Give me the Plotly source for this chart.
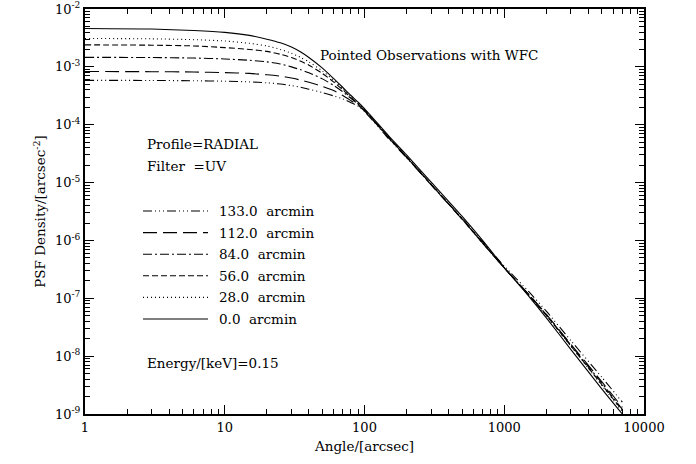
import plotly.graph_objects as go

# ---------------- data ----------------
angles = [1, 3, 6, 10, 15, 20, 25, 30, 35, 40, 50, 60, 70, 80, 90, 100,
          150, 200, 300, 500, 700, 1000, 1500, 2000, 3000, 5000, 7000]

psf_0 = [4.6e-3, 4.5e-3, 4.25e-3, 3.95e-3, 3.5e-3, 3.0e-3, 2.6e-3, 2.2e-3, 1.8e-3, 1.45e-3,
         9.5e-4, 6.3e-4, 4.4e-4, 3.2e-4, 2.45e-4, 1.9e-4,
         6.3e-5, 3.0e-5, 1.02e-5, 2.6e-6, 1.0e-6, 3.4e-7, 1.08e-7, 4.6e-8, 1.3e-8, 2.7e-9, 1.0e-9]
psf_28 = [3.1e-3, 3.05e-3, 2.95e-3, 2.8e-3, 2.55e-3, 2.3e-3, 2.0e-3, 1.72e-3, 1.45e-3, 1.22e-3,
          8.5e-4, 5.9e-4, 4.2e-4, 3.05e-4, 2.35e-4, 1.82e-4,
          6.0e-5, 2.8e-5, 9.4e-6, 2.35e-6, 9.1e-7, 3.35e-7, 1.12e-7, 5.0e-8, 1.48e-8, 3.1e-9, 1.1e-9]
psf_56 = [2.4e-3, 2.37e-3, 2.3e-3, 2.15e-3, 2.0e-3, 1.85e-3, 1.65e-3, 1.45e-3, 1.25e-3, 1.07e-3,
          7.7e-4, 5.5e-4, 4.0e-4, 2.95e-4, 2.3e-4, 1.8e-4,
          6.0e-5, 2.8e-5, 9.3e-6, 2.35e-6, 9.1e-7, 3.35e-7, 1.13e-7, 5.05e-8, 1.5e-8, 3.2e-9, 1.15e-9]
psf_84 = [1.46e-3, 1.45e-3, 1.42e-3, 1.37e-3, 1.3e-3, 1.22e-3, 1.12e-3, 1.0e-3, 8.9e-4, 7.9e-4,
          6.2e-4, 4.8e-4, 3.7e-4, 2.85e-4, 2.25e-4, 1.78e-4,
          5.9e-5, 2.75e-5, 9.2e-6, 2.33e-6, 9.0e-7, 3.35e-7, 1.15e-7, 5.2e-8, 1.55e-8, 3.4e-9, 1.2e-9]
psf_112 = [8.3e-4, 8.25e-4, 8.15e-4, 7.95e-4, 7.7e-4, 7.3e-4, 6.9e-4, 6.4e-4, 5.9e-4, 5.4e-4,
           4.6e-4, 3.9e-4, 3.2e-4, 2.6e-4, 2.15e-4, 1.72e-4,
           5.8e-5, 2.72e-5, 9.1e-6, 2.32e-6, 9.0e-7, 3.35e-7, 1.17e-7, 5.3e-8, 1.6e-8, 3.6e-9, 1.3e-9]
psf_133 = [5.85e-4, 5.82e-4, 5.75e-4, 5.65e-4, 5.5e-4, 5.3e-4, 5.05e-4, 4.75e-4, 4.45e-4, 4.1e-4,
           3.6e-4, 3.15e-4, 2.8e-4, 2.4e-4, 2.1e-4, 1.7e-4,
           5.6e-5, 2.7e-5, 9.2e-6, 2.4e-6, 9.5e-7, 3.6e-7, 1.3e-7, 6.0e-8, 1.85e-8, 4.3e-9, 1.6e-9]

series_labels = ["133.0  arcmin", "112.0  arcmin", "84.0  arcmin",
                 "56.0  arcmin", "28.0  arcmin", "0.0  arcmin"]
series_values = [psf_133, psf_112, psf_84, psf_56, psf_28, psf_0]
series_dash = ["9px,3px,1px,3px,1px,3px,1px,3px", "14px,6px", "9px,3px,2px,3px",
               "6px,3px", "1px,3px", "solid"]

x_tickvals = [1, 10, 100, 1000, 10000]
x_ticktext = ["1", "10", "100", "1000", "10000"]
y_exponents = [-9, -8, -7, -6, -5, -4, -3, -2]

FONT = "DejaVu Serif"
W, H = 696, 464
ML, MR, MT, MB = 85, 52, 9, 50

fig = go.Figure()
for lab, vals, dash in zip(series_labels, series_values, series_dash):
    fig.add_trace(go.Scatter(x=angles, y=vals, mode="lines", name=lab,
                             line=dict(color="black", width=1.1, dash=dash, shape="spline",
                                       smoothing=0.6),
                             showlegend=False))

pl, pr = ML, W - MR
pt, pb = MT, H - MB


def px_to_paper_x(px):
    return (px - pl) / (pr - pl)


def px_to_paper_y(py):
    return (pb - py) / (pb - pt)


# manual legend (line samples + labels)
leg_x0, leg_x1 = 143, 208
leg_text_x = 217
leg_y0, leg_dy = 211, 21.6
for i, (lab, dash) in enumerate(zip(series_labels, series_dash)):
    yy = px_to_paper_y(leg_y0 + i * leg_dy)
    fig.add_shape(type="line", xref="paper", yref="paper",
                  x0=px_to_paper_x(leg_x0), x1=px_to_paper_x(leg_x1), y0=yy, y1=yy,
                  line=dict(color="black", width=1.1, dash=dash))
    fig.add_annotation(text=lab.replace("  ", "&nbsp;&nbsp;"), xref="paper", yref="paper",
                       x=px_to_paper_x(leg_text_x), y=yy,
                       xanchor="left", yanchor="middle", showarrow=False,
                       font=dict(family=FONT, size=13.5, color="black"))

minor_x = [m * 10 ** d for d in range(0, 4) for m in range(2, 10)]
minor_y = [m * 10.0 ** d for d in range(-9, -2) for m in range(2, 10)]

axis_common = dict(type="log", showline=True, linecolor="black", linewidth=2, mirror="ticks",
                   ticks="inside", ticklen=9, tickwidth=1.2, tickcolor="black",
                   showgrid=False, zeroline=False, automargin=False,
                   tickfont=dict(family=FONT, size=13, color="black"))

fig.update_xaxes(**axis_common, range=[0, 4], tickmode="array", tickvals=x_tickvals,
                 ticktext=x_ticktext,
                 minor=dict(ticks="inside", ticklen=5, tickcolor="black", tickwidth=1,
                            tickmode="array", tickvals=minor_x),
                 title=dict(text="Angle/[arcsec]", font=dict(family=FONT, size=13.5, color="black"),
                            standoff=8))
fig.update_yaxes(**axis_common, range=[-9, -2], tickmode="array",
                 tickvals=[10.0 ** e for e in y_exponents],
                 ticktext=["10<sup>%d</sup>" % e for e in y_exponents],
                 minor=dict(ticks="inside", ticklen=5, tickcolor="black", tickwidth=1,
                            tickmode="array", tickvals=minor_y),
                 title=dict(text="PSF Density/[arcsec<sup>-2</sup>]",
                            font=dict(family=FONT, size=13.5, color="black"), standoff=6))

fig.update_layout(width=W, height=H, margin=dict(l=ML, r=MR, t=MT, b=MB, autoexpand=False),
                  plot_bgcolor="white", paper_bgcolor="white",
                  font=dict(family=FONT, size=13, color="black"))

texts = [("Pointed Observations with WFC", 318, 55),
         ("Profile=RADIAL", 145, 144),
         ("Filter  =UV", 145, 166),
         ("Energy/[keV]=0.15", 145, 363)]
for t, px, py in texts:
    fig.add_annotation(text=t.replace("  ", "&nbsp;&nbsp;"), xref="paper", yref="paper",
                       x=px_to_paper_x(px), y=px_to_paper_y(py),
                       xanchor="left", yanchor="middle", showarrow=False,
                       font=dict(family=FONT, size=13.5, color="black"))

fig.write_html("out.html")
